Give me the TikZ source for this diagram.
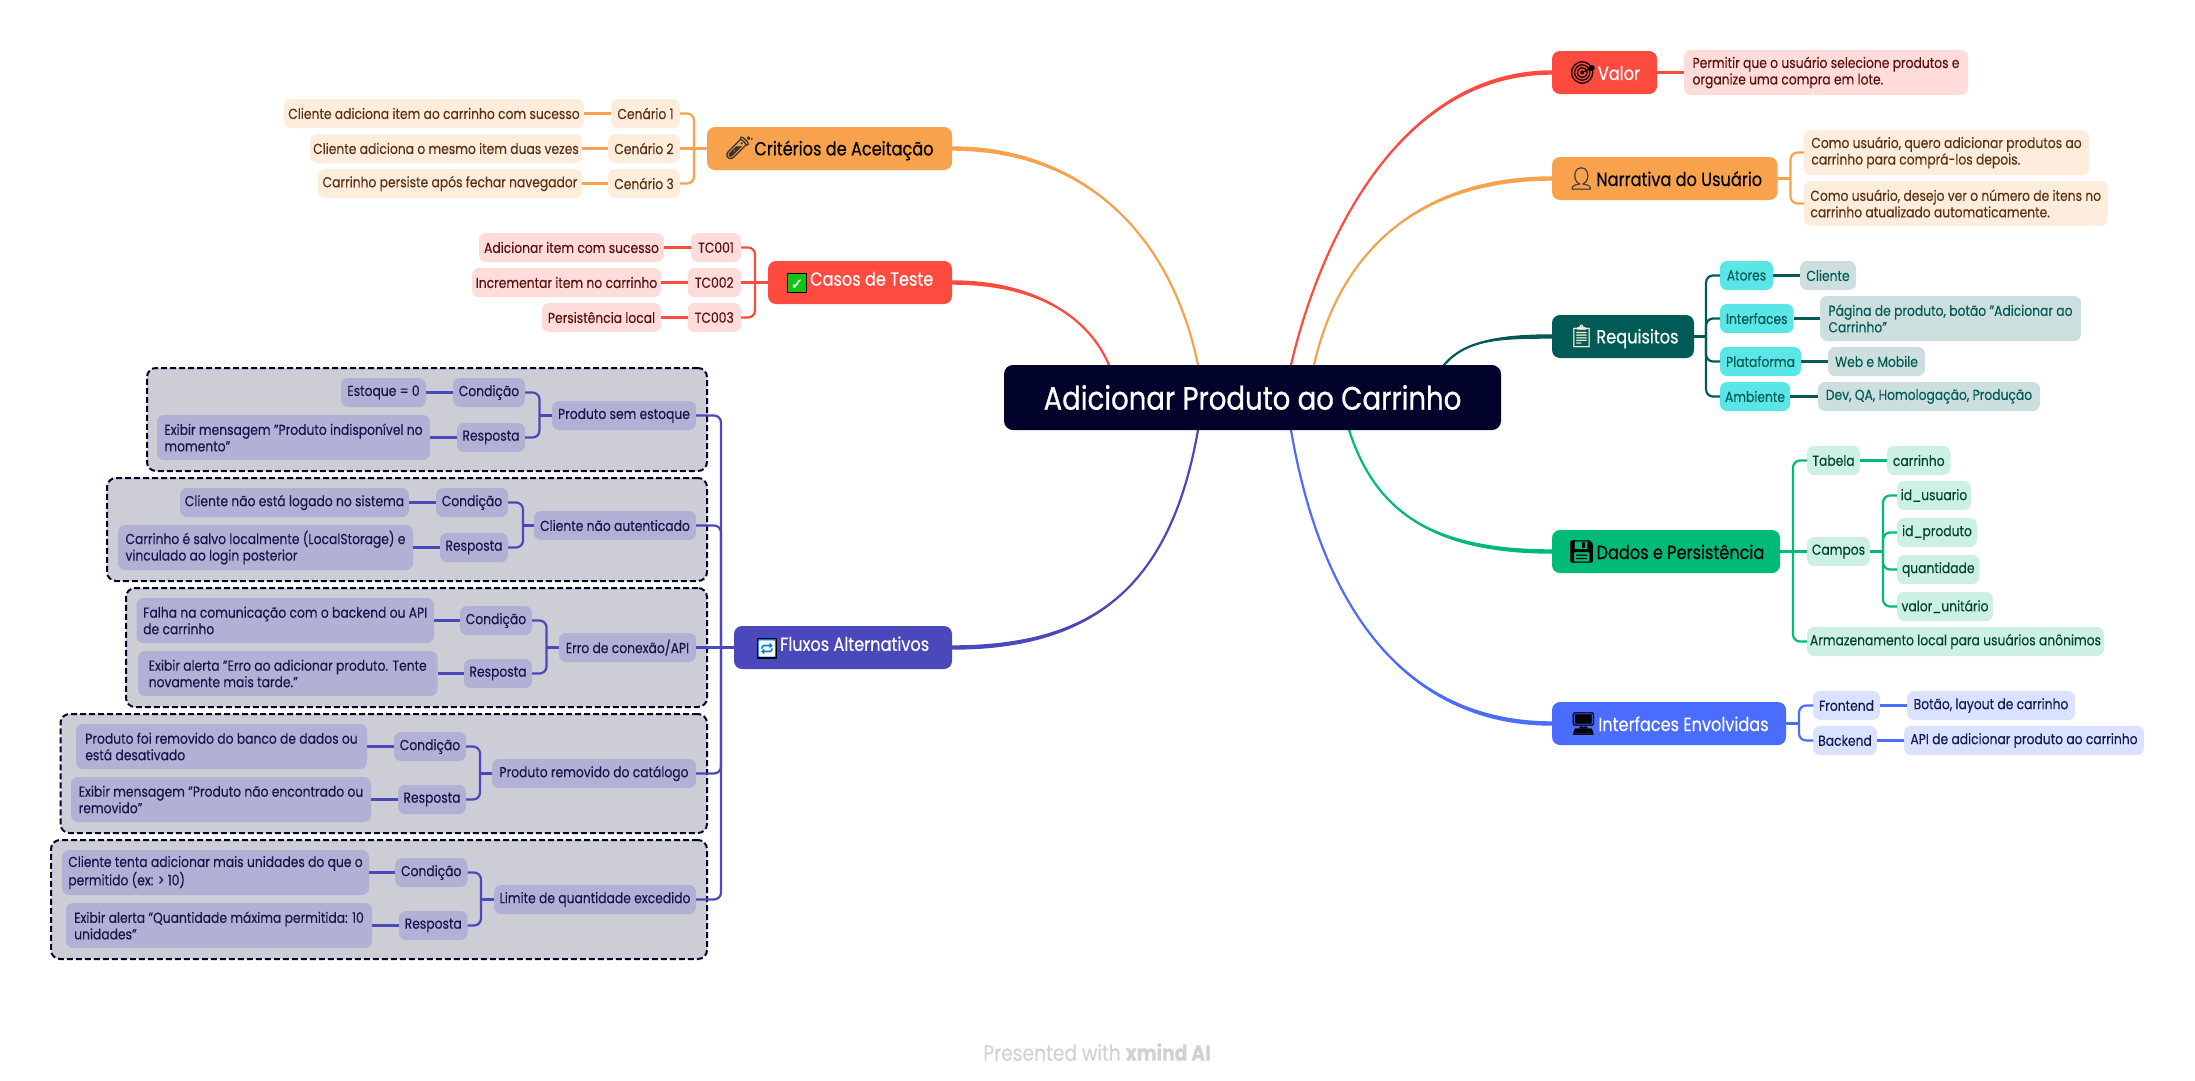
\documentclass[tikz,border=0pt]{standalone}
\usepackage{fontspec}
\setmainfont{Poppins}[FakeStretch=0.85,FakeBold=0.12]
\newfontfamily\medf{Poppins}[FakeStretch=0.85,FakeBold=0.35]
\newfontfamily\hvyf{Poppins}[FakeStretch=0.85,FakeBold=0.65]
\newfontfamily\emo{Noto Emoji}[FakeBold=1.2]
\newfontfamily\emoplain{Noto Emoji}
\newfontfamily\dej{DejaVu Sans}[FakeBold=1]
\pgfdeclarelayer{bg}
\pgfsetlayers{bg,main}
\definecolor{cCenter}{HTML}{02032B}
\definecolor{cRed}{HTML}{FF4A3F}
\definecolor{cRedL}{HTML}{FFDBD9}
\definecolor{cRedT}{HTML}{5C100C}
\definecolor{cOra}{HTML}{F8A24E}
\definecolor{cOraL}{HTML}{FEECDC}
\definecolor{cOraT}{HTML}{5A3210}
\definecolor{cTeal}{HTML}{005A56}
\definecolor{cCyan}{HTML}{5AE6E6}
\definecolor{cTealL}{HTML}{CCDEDD}
\definecolor{cGreen}{HTML}{00BA77}
\definecolor{cGreenL}{HTML}{CCF1E4}
\definecolor{cGreenT}{HTML}{00442B}
\definecolor{cBlue}{HTML}{4A6CFF}
\definecolor{cBlueL}{HTML}{DBE2FF}
\definecolor{cBlueT}{HTML}{101A55}
\definecolor{cInd}{HTML}{4B48BC}
\definecolor{cIndL}{HTML}{B1B1D6}
\definecolor{cIndT}{HTML}{16154A}
\definecolor{cGrp}{HTML}{CDCDD6}
\definecolor{cChk}{HTML}{14C214}
\definecolor{cLoop}{HTML}{0078D4}
\tikzset{
 x=1pt,y=-1pt,
 box/.style={rounded corners=7pt,inner sep=0pt,outer sep=0pt,align=left,font=\fontsize{14.5}{16.5}\selectfont},
 title/.style={box,font=\medf\fontsize{19}{22}\selectfont,rounded corners=8pt},
 redL/.style={box,fill=cRedL,text=cRedT},
 oraL/.style={box,fill=cOraL,text=cOraT},
 cyanN/.style={box,fill=cCyan,text=cTeal},
 tealL/.style={box,fill=cTealL,text=cTeal},
 greenL/.style={box,fill=cGreenL,text=cGreenT},
 blueL/.style={box,fill=cBlueL,text=cBlueT},
 indL/.style={box,fill=cIndL,text=cIndT},
 grp/.style={rounded corners=9pt,inner sep=0pt,outer sep=0pt,fill=cGrp,draw=cCenter,line width=2pt,dash pattern=on 6pt off 3pt},
 conn/.style={line width=2.2pt,rounded corners=7pt},
}
\newcommand\bx[7]{\node[#6,minimum width={#4-#2},minimum height={#5-#3}] (#1) at ({(#2+#4)/2},{(#3+#5)/2}) {#7};}
\newcommand\ico[1]{{\emo\fontsize{22}{22}\selectfont #1}\hspace{1pt}}
\newcommand\chip[2]{{\setlength{\fboxsep}{0pt}\setlength{\fboxrule}{1.2pt}\raisebox{-3.5pt}{\fcolorbox{black}{#1}{\makebox[18pt][c]{\rule[-3pt]{0pt}{18pt}\textcolor{white}{#2}}}}}\hspace{3pt}}
% main branch: a thin stroke from the topic plus a taper towards the branch node
\newcommand\branch[7]{%
 \draw[#1,line width=2.2pt,line cap=round] (#2) .. controls (#3,#4) and (#5,#6) .. (#7);
 \fill[#1] ([yshift=2.2pt]#2) .. controls (#3,{#4-2.2}) and (#5,#6) .. (#7) .. controls (#5,#6) and (#3,{#4+2.2}) .. ([yshift=-2.2pt]#2) -- cycle;}
\begin{document}
\begin{tikzpicture}
\useasboundingbox (0,0) rectangle (2195,1080);
% groups
\bx{g1}{147}{368}{707}{471}{grp}{}
\bx{g2}{107}{478}{707}{581}{grp}{}
\bx{g3}{126}{588}{707}{707}{grp}{}
\bx{g4}{60.5}{714}{707}{833}{grp}{}
\bx{g5}{51}{840}{707}{959}{grp}{}
% centre
\bx{center}{1004}{365}{1501}{430}{box,fill=cCenter,text=white,font=\hvyf\fontsize{32.4}{34}\selectfont,rounded corners=9pt}{Adicionar Produto ao Carrinho}
% right branches
\bx{valor}{1552}{51}{1657}{94}{title,fill=cRed,text=white}{\ico{\textcolor{black}{🎯}}Valor}
\bx{valorA}{1684}{50}{1968}{95}{redL}{Permitir que o usuário selecione produtos e\\organize uma compra em lote.}
\bx{narr}{1552}{157}{1777.5}{200}{title,fill=cOra,text=black}{\ico{\textcolor{black!75}{👤}}Narrativa do Usuário}
\bx{narrA}{1804}{130}{2089}{175}{oraL}{Como usuário, quero adicionar produtos ao\\carrinho para comprá-los depois.}
\bx{narrB}{1804}{181}{2107.5}{226}{oraL}{Como usuário, desejo ver o número de itens no\\carrinho atualizado automaticamente.}
\bx{req}{1552}{315}{1694}{358}{title,fill=cTeal,text=white}{\ico{\textcolor{cOraL}{📋}}Requisitos}
\bx{at}{1720}{261}{1773}{290}{cyanN}{Atores}
\bx{atA}{1800}{261}{1856}{290}{tealL}{Cliente}
\bx{int}{1720}{304}{1793.5}{333}{cyanN}{Interfaces}
\bx{intA}{1820}{296}{2081}{341}{tealL}{Página de produto, botão "Adicionar ao\\Carrinho"}
\bx{pla}{1720}{347}{1801}{376}{cyanN}{Plataforma}
\bx{plaA}{1828}{347}{1925}{376}{tealL}{Web e Mobile}
\bx{amb}{1720}{382}{1790}{411}{cyanN}{Ambiente}
\bx{ambA}{1818}{382}{2040}{411}{tealL}{Dev, QA, Homologação, Produção}
\bx{dad}{1552}{530}{1780}{573}{title,fill=cGreen,text=black}{\ico{💾}Dados e Persistência}
\bx{tab}{1807}{446}{1860}{475}{greenL}{Tabela}
\bx{tabA}{1887}{446}{1950.5}{475}{greenL}{carrinho}
\bx{cam}{1807}{537}{1870}{566}{greenL}{Campos}
\bx{camA}{1897}{481}{1971}{510}{greenL}{id\_usuario}
\bx{camB}{1897}{518}{1977}{547}{greenL}{id\_produto}
\bx{camC}{1897}{555}{1979.5}{584}{greenL}{quantidade}
\bx{camD}{1897}{592}{1993}{621}{greenL}{valor\_unitário}
\bx{arm}{1807}{627}{2104}{656}{greenL}{Armazenamento local para usuários anônimos}
\bx{ife}{1552}{702}{1786}{745}{title,fill=cBlue,text=white}{\ico{\textcolor{black}{🖥}}Interfaces Envolvidas}
\bx{fro}{1813}{691}{1880}{720}{blueL}{Frontend}
\bx{froA}{1907}{691}{2075}{720}{blueL}{Botão, layout de carrinho}
\bx{bac}{1813}{726}{1877}{755}{blueL}{Backend}
\bx{bacA}{1904}{726}{2144}{755}{blueL}{API de adicionar produto ao carrinho}
% left branches
\bx{cri}{707}{127}{952}{170}{title,fill=cOra,text=black}{\ico{\textcolor{black!80}{🧪}}Critérios de Aceitação}
\bx{cen1}{611}{99}{680}{128}{oraL}{Cenário 1}
\bx{cen1A}{284}{99}{584}{128}{oraL}{Cliente adiciona item ao carrinho com sucesso}
\bx{cen2}{608}{134}{680}{163}{oraL}{Cenário 2}
\bx{cen2A}{310}{134}{582}{163}{oraL}{Cliente adiciona o mesmo item duas vezes}
\bx{cen3}{608}{169}{680}{198}{oraL}{Cenário 3}
\bx{cen3A}{318}{169}{582}{198}{oraL}{Carrinho persiste após fechar navegador}
\bx{cas}{768}{261}{952}{304}{title,fill=cRed,text=white}{\chip{cChk}{\dej\fontsize{15}{15}\selectfont ✓}Casos de Teste}
\bx{tc1}{691}{233}{741}{262}{redL}{TC001}
\bx{tc1A}{479}{233}{664}{262}{redL}{Adicionar item com sucesso}
\bx{tc2}{687.5}{268}{741}{297}{redL}{TC002}
\bx{tc2A}{472}{268}{661}{297}{redL}{Incrementar item no carrinho}
\bx{tc3}{687.5}{303}{741}{332}{redL}{TC003}
\bx{tc3A}{542}{303}{661}{332}{redL}{Persistência local}
\bx{flu}{734}{626}{952}{669}{title,fill=cInd,text=white}{\chip{cLoop}{\emoplain\fontsize{16}{16}\selectfont 🔁}Fluxos Alternativos}
% group 1
\bx{p1}{552}{401}{696}{430}{indL}{Produto sem estoque}
\bx{p1c}{453}{378}{525}{407}{indL}{Condição}
\bx{p1cA}{341}{378}{426}{407}{indL}{Estoque = 0}
\bx{p1r}{457}{423}{525}{452}{indL}{Resposta}
\bx{p1rA}{157}{415}{430}{460}{indL}{Exibir mensagem "Produto indisponível no\\momento"}
% group 2
\bx{p2}{534}{511}{696}{540}{indL}{Cliente não autenticado}
\bx{p2c}{436}{488}{508}{517}{indL}{Condição}
\bx{p2cA}{180}{488}{409}{517}{indL}{Cliente não está logado no sistema}
\bx{p2r}{440}{533}{508}{562}{indL}{Resposta}
\bx{p2rA}{118}{525}{413}{570}{indL}{Carrinho é salvo localmente (LocalStorage) e\\vinculado ao login posterior}
% group 3
\bx{p3}{559}{633}{696}{662}{indL}{Erro de conexão/API}
\bx{p3c}{460}{606}{532}{635}{indL}{Condição}
\bx{p3cA}{136.5}{598}{434}{643}{indL}{Falha na comunicação com o backend ou API\\de carrinho}
\bx{p3r}{464}{659}{532}{688}{indL}{Resposta}
\bx{p3rA}{138}{651}{437.5}{696}{indL}{Exibir alerta "Erro ao adicionar produto. Tente\\novamente mais tarde."}
% group 4
\bx{p4}{492}{759}{696}{788}{indL}{Produto removido do catálogo}
\bx{p4c}{394}{732}{466}{761}{indL}{Condição}
\bx{p4cA}{76}{724}{367}{769}{indL}{Produto foi removido do banco de dados ou\\está desativado}
\bx{p4r}{398}{785}{466}{814}{indL}{Resposta}
\bx{p4rA}{71}{777}{371}{822}{indL}{Exibir mensagem "Produto não encontrado ou\\removido"}
% group 5
\bx{p5}{494}{885}{696}{914}{indL}{Limite de quantidade excedido}
\bx{p5c}{395}{858}{467.5}{887}{indL}{Condição}
\bx{p5cA}{62}{850}{369}{895}{indL}{Cliente tenta adicionar mais unidades do que o\\permitido (ex: > 10)}
\bx{p5r}{399}{911}{467.5}{940}{indL}{Resposta}
\bx{p5rA}{66}{903}{372}{948}{indL}{Exibir alerta "Quantidade máxima permitida: 10\\unidades"}
% footer
\node[inner sep=0pt,text=black!18,font=\fontsize{22}{24}\selectfont] (foot) at (1097,1052) {Presented with \textbf{xmind AI}};
% junction coordinates
\coordinate (jNarr) at (1790.5,178.5);
\coordinate (jReq) at (1706,336.5);
\coordinate (jDad) at (1793,551.5);
\coordinate (jCam) at (1883,551.5);
\coordinate (jIfe) at (1799,723.5);
\coordinate (jCri) at (694,148.5);
\coordinate (jCas) at (755,282.5);
\coordinate (jP1) at (539.5,415.5);
\coordinate (jP2) at (523,525.5);
\coordinate (jP3) at (546.5,647.5);
\coordinate (jP4) at (480,773.5);
\coordinate (jP5) at (481,899.5);
\coordinate (jFlu) at (721,647.5);
% main branch ends on the central topic
\coordinate (eVal) at (1291,365);
\coordinate (eNar) at (1314,365);
\coordinate (eReq) at (1444,365);
\coordinate (eDad) at (1349,430);
\coordinate (eIfe) at (1291,430);
\coordinate (eCri) at (1198,365);
\coordinate (eCas) at (1109,365);
\coordinate (eFlu) at (1198,430);
\begin{pgfonlayer}{bg}
\branch{cRed}{valor.west}{1400}{72.5}{1320}{240}{eVal}
\branch{cOra}{narr.west}{1420}{178.5}{1340}{250}{eNar}
\branch{cTeal}{req.west}{1500}{336.5}{1465}{340}{eReq}
\branch{cGreen}{dad.west}{1430}{551.5}{1375}{510}{eDad}
\branch{cBlue}{ife.west}{1400}{723.5}{1320}{600}{eIfe}
\branch{cOra}{cri.east}{1080}{148.5}{1170}{230}{eCri}
\branch{cRed}{cas.east}{1040}{282.5}{1090}{320}{eCas}
\branch{cInd}{flu.east}{1090}{647.5}{1170}{590}{eFlu}
\end{pgfonlayer}
% connectors
\draw[conn,cRed] (valor.east) -- (valorA.west);
\draw[conn,cOra] (narrA.west) -| (jNarr) |- (narrB.west);
\draw[conn,cOra] (narr.east) -- (jNarr);
\draw[conn,cTeal] (req.east) -- (jReq);
\draw[conn,cTeal] (at.west) -| (jReq) |- (amb.west);
\draw[conn,cTeal] (int.west) -| (jReq) |- (pla.west);
\draw[conn,cTeal] (at.east) -- (atA.west);
\draw[conn,cTeal] (int.east) -- (intA.west);
\draw[conn,cTeal] (pla.east) -- (plaA.west);
\draw[conn,cTeal] (amb.east) -- (ambA.west);
\draw[conn,cGreen] (dad.east) -- (cam.west);
\draw[conn,cGreen] (tab.west) -| (jDad) |- (arm.west);
\draw[conn,cGreen] (tab.east) -- (tabA.west);
\draw[conn,cGreen] (cam.east) -- (jCam);
\draw[conn,cGreen] (camA.west) -| (jCam) |- (camD.west);
\draw[conn,cGreen] (camB.west) -| (jCam) |- (camC.west);
\draw[conn,cBlue] (ife.east) -- (jIfe);
\draw[conn,cBlue] (fro.west) -| (jIfe) |- (bac.west);
\draw[conn,cBlue] (fro.east) -- (froA.west);
\draw[conn,cBlue] (bac.east) -- (bacA.west);
\draw[conn,cOra] (cri.west) -- (cen2.east);
\draw[conn,cOra] (cen1.east) -| (jCri) |- (cen3.east);
\draw[conn,cOra] (cen1.west) -- (cen1A.east);
\draw[conn,cOra] (cen2.west) -- (cen2A.east);
\draw[conn,cOra] (cen3.west) -- (cen3A.east);
\draw[conn,cRed] (cas.west) -- (tc2.east);
\draw[conn,cRed] (tc1.east) -| (jCas) |- (tc3.east);
\draw[conn,cRed] (tc1.west) -- (tc1A.east);
\draw[conn,cRed] (tc2.west) -- (tc2A.east);
\draw[conn,cRed] (tc3.west) -- (tc3A.east);
\draw[conn,cInd] (flu.west) -- (p3.east);
\draw[conn,cInd] (p1.east) -| (jFlu) |- (p5.east);
\draw[conn,cInd] (p2.east) -| (jFlu) |- (p4.east);
\foreach \p/\j in {p1/jP1,p2/jP2,p3/jP3,p4/jP4,p5/jP5}{
 \draw[conn,cInd] (\p.west) -- (\j);
 \draw[conn,cInd] (\p c.east) -| (\j) |- (\p r.east);
 \draw[conn,cInd] (\p c.west) -- (\p cA.east);
 \draw[conn,cInd] (\p r.west) -- (\p rA.east);
}
\end{tikzpicture}
\end{document}
